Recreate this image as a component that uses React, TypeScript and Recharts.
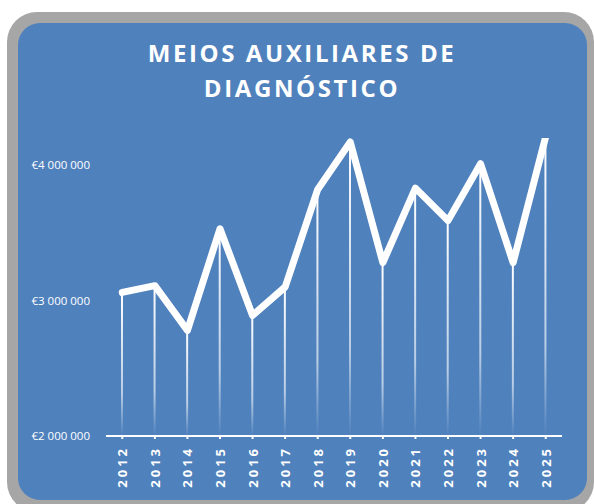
import { ComposedChart, Line, Bar, XAxis, YAxis } from 'recharts';

const years = ['2012', '2013', '2014', '2015', '2016', '2017', '2018', '2019', '2020', '2021', '2022', '2023', '2024', '2025'];
const spending = [3060000, 3110000, 2780000, 3530000, 2890000, 3100000, 3820000, 4170000, 3280000, 3830000, 3590000, 4010000, 3280000, 4210000];
const yTicks = [2000000, 3000000, 4000000];

const data = years.map((year, i) => ({ year, value: spending[i] }));

const FONT = '"Open Sans", sans-serif';

function formatEuro(v: number): string {
  return '€' + String(v).replace(/\B(?=(\d{3})+(?!\d))/g, ' ');
}

function YearTick(props: any) {
  const { x, y, payload } = props;
  return (
    <g transform={`translate(${x},${y})`}>
      <text
        transform="rotate(-90)"
        x={-5}
        y={0}
        textAnchor="end"
        dominantBaseline="central"
        fill="#ffffff"
        fontSize={13}
        fontWeight={700}
        letterSpacing={3}
        fontFamily={FONT}
      >
        {payload.value}
      </text>
    </g>
  );
}

export default function App() {
  return (
    <div style={{ position: 'fixed', left: 0, top: 0, width: 594, height: 504, overflow: 'hidden', background: '#fff' }}>
      {/* gray frame */}
      <div style={{ position: 'absolute', left: 7, top: 12, width: 587, height: 500, borderRadius: 30, background: '#a6a6a6' }} />
      {/* blue panel */}
      <div style={{ position: 'absolute', left: 18, top: 23, width: 569, height: 477, borderRadius: 22, background: '#4f81bd' }} />
      <div
        style={{
          position: 'absolute',
          left: 0,
          top: 35,
          width: 604,
          textAlign: 'center',
          color: '#fff',
          fontFamily: FONT,
          fontWeight: 700,
          fontSize: 24,
          lineHeight: '35px',
          letterSpacing: 2.6,
        }}
      >
        MEIOS AUXILIARES DE
        <br />
        DIAGNÓSTICO
      </div>
      <div style={{ position: 'absolute', left: 0, top: 0 }}>
        <ComposedChart width={594} height={504} data={data} margin={{ top: 138, right: 32, bottom: 8, left: 0 }}>
          <defs>
            <linearGradient id="dropFade" x1="0" y1="0" x2="0" y2="1">
              <stop offset="0%" stopColor="#ffffff" stopOpacity={1} />
              <stop offset="70%" stopColor="#ffffff" stopOpacity={0.6} />
              <stop offset="100%" stopColor="#ffffff" stopOpacity={0} />
            </linearGradient>
          </defs>
          <XAxis
            dataKey="year"
            height={60}
            axisLine={{ stroke: '#ffffff', strokeWidth: 2 }}
            tickLine={{ stroke: '#ffffff', strokeWidth: 2 }}
            tickSize={3}
            tickMargin={2}
            interval={0}
            tick={<YearTick />}
          />
          <YAxis
            width={106}
            domain={[2000000, 4200000]}
            allowDataOverflow
            ticks={yTicks}
            axisLine={false}
            tickLine={false}
            tickSize={6}
            tickMargin={10}
            tickFormatter={formatEuro}
            tick={{ fill: '#ffffff', fontSize: 11.5, fontFamily: FONT }}
          />
          <Bar dataKey="value" barSize={2} fill="url(#dropFade)" isAnimationActive={false} />
          <Line
            type="linear"
            dataKey="value"
            stroke="#ffffff"
            strokeWidth={7}
            strokeLinejoin="round"
            strokeLinecap="round"
            dot={false}
            activeDot={false}
            isAnimationActive={false}
          />
        </ComposedChart>
      </div>
    </div>
  );
}
